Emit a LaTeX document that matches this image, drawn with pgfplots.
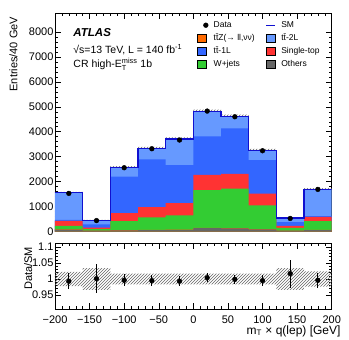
\documentclass[border=0pt]{standalone}
\usepackage{fontspec}
\setmainfont{Liberation Sans}
\usepackage{amsmath}
\usepackage{pgfplots}
\usepackage{pgfplotstable}
\pgfplotsset{compat=1.18}
\usepgfplotslibrary{fillbetween}
\usetikzlibrary{patterns}

\definecolor{cttz}{HTML}{FF6A00}
\definecolor{ctwo}{HTML}{6699FF}
\definecolor{cone}{HTML}{3366FF}
\definecolor{cst}{HTML}{FF3333}
\definecolor{cw}{HTML}{33CC33}
\definecolor{coth}{HTML}{666666}
\definecolor{csm}{HTML}{1010D0}

\newcommand{\fs}[1]{\fontsize{#1}{#1}\selectfont}

% cumulative stack tops per bin (left edge)
\pgfplotstableread{
xlo  oth  ttz  wj   st   one  two
-200 80   90   230  430  470  1560
-160 40   45   100  160  290  456
-120 50   58   428  748  2200 2576
-80  60   68   576  988  2893 3336
-40  70   80   650  1140 2668 3708
0    140  152  1660 2270 3810 4800
40   130  142  1720 2310 4135 4610
80   90   100  1055 1520 2867 3260
120  40   45   150  230  380  545
160  60   68   420  590  620  1700
200  60   68   420  590  620  1700
}\stack

% uncertainty band: main panel and ratio panel
\pgfplotstableread{
xlo  up   lo   rup   rlo
-200 1594 1526 1.022 0.978
-160 472  440  1.034 0.966
-120 2620 2532 1.017 0.983
-80  3393 3279 1.017 0.983
-40  3771 3645 1.017 0.983
0    4882 4718 1.017 0.983
40   4688 4532 1.017 0.983
80   3315 3205 1.017 0.983
120  564  526  1.034 0.966
160  1741 1659 1.024 0.976
200  1741 1659 1.024 0.976
}\band

\pgfplotstableread{
x    d    de  r     re
-180 1533 39  0.993 0.025
-140 445  21  1.001 0.046
-100 2560 51  0.996 0.019
-60  3320 58  0.995 0.017
-20  3668 61  0.993 0.015
20   4827 69  1.004 0.014
60   4600 68  0.999 0.015
100  3240 57  0.995 0.017
140  530  23  1.017 0.044
180  1693 41  0.996 0.024
}\data

\pgfplotsset{
  atl/.style={
    scale only axis, width=276.7pt,
    xmin=-200, xmax=200,
    xtick={-200,-150,...,200}, minor x tick num=4,
    minor y tick num=4,
    xtick pos=both, ytick pos=both,
    tick align=inside,
    major tick length=6pt, minor tick length=3pt,
    tick style={black, line width=0.5pt},
    axis line style={line width=0.6pt},
    /pgf/number format/assume math mode=true,
    /pgf/number format/1000 sep={},
    ticklabel style={font=\fs{11}},
    label style={font=\fs{11}},
  },
  boxleg/.style={legend image code/.code={\fill[##1] (0pt,-4pt) rectangle (9pt,4pt);}},
}

\begin{document}
\begin{tikzpicture}

\begin{axis}[atl,
  name=main, at={(0,0)}, anchor=south west,
  height=218.4pt,
  ymin=0, ymax=8740,
  ytick={0,1000,...,8000},
  xticklabels={},
  yticklabel style={xshift=2pt},
  ylabel={Entries/40 GeV},
  ylabel style={at={(axis description cs:-0.15,1)}, anchor=east},
  legend columns=2,
  legend cell align=left,
  legend style={at={(rel axis cs:0.502,0.975)}, anchor=north west,
    draw=none, fill=none, font=\fs{8.5},
    nodes={inner sep=0pt, text height=6.5pt, text depth=2pt},
    row sep=4.5pt,
    /tikz/every odd column/.append style={column sep=5.5pt},
    /tikz/every even column/.append style={column sep=11pt}},
]
\addplot[const plot, fill=ctwo, draw=none, forget plot] table[x=xlo, y=two]{\stack} \closedcycle;
\addplot[const plot, fill=cone, draw=none, forget plot] table[x=xlo, y=one]{\stack} \closedcycle;
\addplot[const plot, fill=cst,  draw=none, forget plot] table[x=xlo, y=st]{\stack} \closedcycle;
\addplot[const plot, fill=cw,   draw=none, forget plot] table[x=xlo, y=wj]{\stack} \closedcycle;
\addplot[const plot, fill=cttz, draw=none, forget plot] table[x=xlo, y=ttz]{\stack} \closedcycle;
\addplot[const plot, fill=coth, draw=none, forget plot] table[x=xlo, y=oth]{\stack} \closedcycle;

\addplot[name path=bu, const plot, draw=none, forget plot] table[x=xlo, y=up]{\band};
\addplot[name path=bl, const plot, draw=none, forget plot] table[x=xlo, y=lo]{\band};
\addplot[pattern=north east lines, pattern color=black!60, forget plot] fill between[of=bu and bl];

\addplot[const plot, draw=csm, line width=1.2pt, forget plot] table[x=xlo, y=two]{\stack};

\addplot[only marks, mark=*, mark size=2.4pt, black, forget plot,
  error bars/.cd, y dir=both, y explicit, error bar style={line width=0.8pt}, error mark=none]
  table[x=x, y=d, y error=de]{\data};

\addlegendimage{only marks, mark=*, mark size=2.4pt, black}
\addlegendentry{Data}
\addlegendimage{legend image code/.code={\draw[csm, line width=1pt] (0pt,0pt) -- (9pt,0pt);}}
\addlegendentry{SM}
\addlegendimage{boxleg, fill=cttz}
\addlegendentry{t\=tZ(→ ll,νν)}
\addlegendimage{boxleg, fill=ctwo}
\addlegendentry{t\=t-2L}
\addlegendimage{boxleg, fill=cone}
\addlegendentry{t\=t-1L}
\addlegendimage{boxleg, fill=cst}
\addlegendentry{Single-top}
\addlegendimage{boxleg, fill=cw}
\addlegendentry{W+jets}
\addlegendimage{boxleg, fill=coth}
\addlegendentry{Others}

\node[anchor=base west, font=\fs{11.5}\bfseries\itshape] at (rel axis cs:0.054,0.896) {ATLAS};
\node[anchor=base west, font=\fs{10.5}] at (rel axis cs:0.054,0.814) {√s=13 TeV, L = 140 fb\textsuperscript{-1}};
\node[anchor=base west, font=\fs{10.5}] at (rel axis cs:0.054,0.75) {CR high-E$^{\text{miss}}_{\text{T}}$ 1b};
\end{axis}

\begin{axis}[atl,
  at={(0,-11.6pt)}, anchor=north west,
  height=66pt,
  ymin=0.905, ymax=1.112,
  xticklabels={−200,−150,−100,−50,0,50,100,150,200},
  xticklabel style={yshift=-3pt},
  ytick={0.95,1,1.05,1.1},
  yticklabels={0.95,1,1.05,1.1},
  yticklabel style={xshift=2pt},
  ylabel={Data/SM},
  ylabel style={at={(axis description cs:-0.097,0.62)}, anchor=center},
  xlabel={m\textsubscript{T} × q(lep) [GeV]},
  xlabel style={at={(axis description cs:1,0)}, anchor=north east, font=\fs{12}, xshift=9pt, yshift=-16pt, inner sep=0pt},
]
\addplot[name path=ru, const plot, draw=none] table[x=xlo, y=rup]{\band};
\addplot[name path=rl, const plot, draw=none] table[x=xlo, y=rlo]{\band};
\addplot[pattern=north east lines, pattern color=black!60] fill between[of=ru and rl];

\addplot[only marks, mark=*, mark size=2.4pt, black,
  error bars/.cd, y dir=both, y explicit, error bar style={line width=0.8pt}, error mark=none]
  table[x=x, y=r, y error=re]{\data};
\end{axis}

\pgfresetboundingbox
\path[use as bounding box] (-55pt,231.7pt) rectangle (294pt,-108.3pt);
\end{tikzpicture}
\end{document}
